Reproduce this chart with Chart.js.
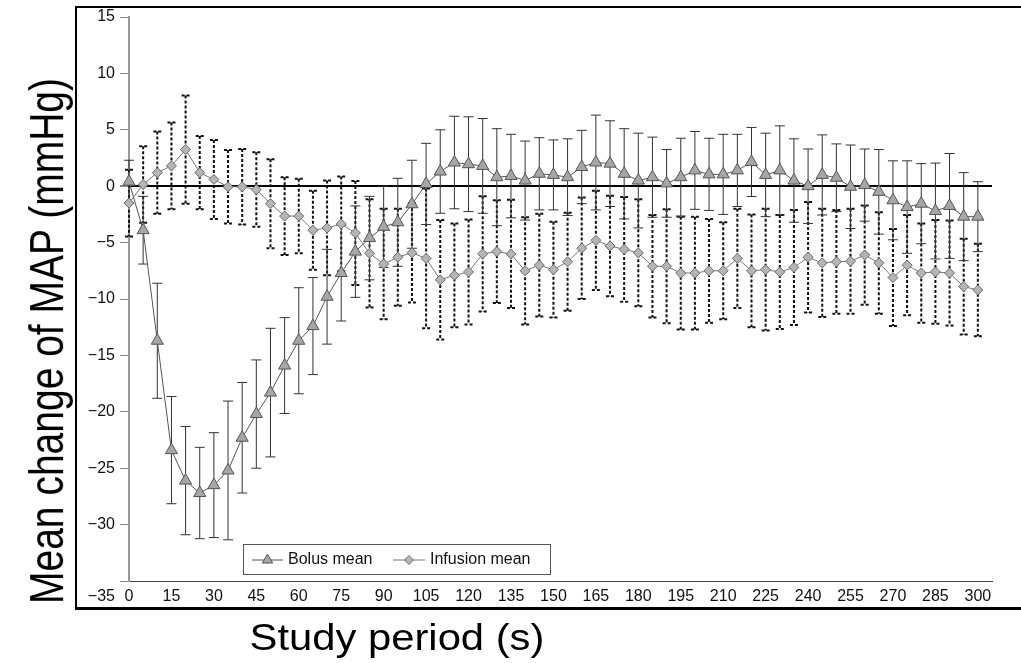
<!DOCTYPE html>
<html>
<head>
<meta charset="utf-8">
<script src="https://cdn.jsdelivr.net/npm/chart.js@4/dist/chart.umd.min.js"></script>
<style>
  html, body { margin: 0; padding: 0; background: #fff; }
  #wrap { position: relative; width: 1021px; height: 663px; overflow: hidden;
          font-family: 'Liberation Sans', Arial, Helvetica, sans-serif; color: #000; }
  #frame { position: absolute; left: 75px; top: 6px; width: 980px; height: 599px;
           border-top: 2px solid #000; border-left: 2px solid #000; border-bottom: 3px solid #000; }
  #chart { position: absolute; left: 0; top: 0; }
  .ytitle { position: absolute; left: 46px; top: 341px; font-size: 39px; line-height: 1;
            white-space: nowrap; transform: translate(-50%, -50%) rotate(-90deg) scaleY(1.25); }
  .xtitle { position: absolute; left: 397px; top: 620px; font-size: 36px; line-height: 1;
            white-space: nowrap; transform: translate(-50%, 0) scaleX(1.16); }
</style>
</head>
<body>
<div id="wrap">
  <div id="frame"></div>
  <canvas id="chart" width="1021" height="663"></canvas>
  <div class="ytitle">Mean change of MAP (mmHg)</div>
  <div class="xtitle">Study period (s)</div>
</div>
<script>
const times = [0, 5, 10, 15, 20, 25, 30, 35, 40, 45, 50, 55, 60, 65, 70, 75, 80, 85, 90, 95,
  100, 105, 110, 115, 120, 125, 130, 135, 140, 145, 150, 155, 160, 165, 170, 175, 180, 185, 190, 195,
  200, 205, 210, 215, 220, 225, 230, 235, 240, 245, 250, 255, 260, 265, 270, 275, 280, 285, 290, 295, 300];

const bolusMean = [0.4, -3.9, -13.7, -23.4, -26.1, -27.2, -26.5, -25.2, -22.3, -20.2,
  -18.3, -15.9, -13.7, -12.4, -9.8, -7.7, -5.8, -4.6, -3.6, -3.2,
  -1.6, 0.2, 1.3, 2.1, 1.95, 1.8, 0.8, 0.9, 0.5, 1.1,
  1.0, 0.8, 1.7, 2.1, 2.0, 1.1, 0.5, 0.8, 0.25, 0.8,
  1.4, 1.05, 1.05, 1.4, 2.15, 1.0, 1.4, 0.5, 0.0, 1.0,
  0.75, -0.05, 0.1, -0.5, -1.25, -1.85, -1.55, -2.2, -1.75, -2.7, -2.7];

const bolusSD = [1.9, 3.0, 5.1, 4.75, 4.8, 4.05, 4.65, 6.15, 4.9, 4.8,
  5.7, 4.25, 4.7, 4.3, 4.2, 4.25, 4.05, 3.7, 3.6, 3.9,
  3.9, 3.6, 3.7, 4.1, 4.2, 4.2, 4.3, 3.7, 3.5, 3.2,
  3.1, 3.4, 3.25, 4.2, 3.8, 4.0, 4.2, 3.55, 3.0, 3.45,
  3.45, 3.2, 3.55, 3.2, 3.06, 3.7, 3.95, 3.7, 3.3, 3.55,
  3.0, 3.7, 3.2, 3.75, 3.5, 4.1, 3.55, 4.25, 4.65, 3.9, 3.1];

const infusionMean = [-1.5, 0.15, 1.2, 1.8, 3.25, 1.2, 0.6, -0.05, -0.05, -0.3,
  -1.55, -2.65, -2.65, -3.9, -3.7, -3.35, -4.15, -5.95, -6.9, -6.3,
  -5.9, -6.4, -8.3, -7.9, -7.6, -6.0, -5.8, -6.0, -7.5, -7.0,
  -7.4, -6.7, -5.5, -4.8, -5.3, -5.6, -5.9, -7.1, -7.1, -7.7,
  -7.7, -7.5, -7.5, -6.4, -7.5, -7.4, -7.6, -7.2, -6.3, -6.8,
  -6.7, -6.65, -6.1, -6.8, -8.1, -7.0, -7.7, -7.6, -7.7, -8.9, -9.2];

const infusionSD = [2.95, 3.4, 3.65, 3.85, 4.8, 3.25, 3.5, 3.25, 3.35, 3.3,
  3.95, 3.45, 3.3, 3.5, 4.2, 4.2, 4.6, 4.8, 4.9, 4.3,
  4.4, 6.2, 5.3, 4.6, 4.65, 5.1, 4.55, 4.8, 4.75, 4.55,
  4.25, 4.35, 4.5, 4.4, 4.45, 4.65, 4.75, 4.55, 5.05, 5.0,
  5.0, 4.6, 4.3, 4.4, 5.0, 5.4, 5.05, 5.1, 4.9, 4.8,
  4.6, 4.65, 4.4, 4.5, 4.3, 4.45, 4.4, 4.6, 4.65, 4.25, 4.1];

const xTicks = [0, 15, 30, 45, 60, 75, 90, 105, 120, 135, 150, 165, 180, 195, 210, 225, 240, 255, 270, 285, 300];
const yTicks = [-35, -30, -25, -20, -15, -10, -5, 0, 5, 10, 15];

const fontFamily = "'Liberation Sans', Arial, Helvetica, sans-serif";
const minus = v => String(v).replace('-', '\u2212');

// mean +/- SD whiskers, drawn under the markers
const errorBars = {
  id: 'errorBars',
  beforeDatasetsDraw(chart) {
    const { ctx, scales: { x, y } } = chart;
    const sets = [
      { mean: infusionMean, sd: infusionSD, dash: [3, 2], width: 2, color: '#111', cap: 4 },
      { mean: bolusMean, sd: bolusSD, dash: [], width: 1, color: '#333', cap: 5 }
    ];
    ctx.save();
    sets.forEach(s => {
      ctx.strokeStyle = s.color;
      ctx.lineWidth = s.width;
      ctx.setLineDash(s.dash);
      times.forEach((t, i) => {
        const px = x.getPixelForValue(t);
        const top = y.getPixelForValue(s.mean[i] + s.sd[i]);
        const bot = y.getPixelForValue(s.mean[i] - s.sd[i]);
        ctx.beginPath();
        ctx.moveTo(px, top); ctx.lineTo(px, bot);
        ctx.moveTo(px - s.cap, top); ctx.lineTo(px + s.cap, top);
        ctx.moveTo(px - s.cap, bot); ctx.lineTo(px + s.cap, bot);
        ctx.stroke();
      });
    });
    ctx.restore();
  }
};

// boxed legend in the lower part of the plot, plus the lone -35 label
const boxLegend = {
  id: 'boxLegend',
  afterDraw(chart) {
    const { ctx, chartArea: ca, scales: { y } } = chart;
    const left = ca.left + 114, top = ca.bottom - 37, w = 307, h = 30;
    const cy = top + h / 2 + 1;
    ctx.save();
    ctx.strokeStyle = '#555';
    ctx.lineWidth = 1;
    ctx.strokeRect(left + 0.5, top + 0.5, w, h);

    const items = [
      { x0: left + 9, x1: left + 40, tx: left + 45, ds: chart.data.datasets[0] },
      { x0: left + 150, x1: left + 182, tx: left + 187, ds: chart.data.datasets[1] }
    ];
    items.forEach(it => {
      const mx = (it.x0 + it.x1) / 2;
      ctx.strokeStyle = it.ds.borderColor;
      ctx.beginPath();
      ctx.moveTo(it.x0, cy); ctx.lineTo(it.x1, cy);
      ctx.stroke();
      ctx.fillStyle = it.ds.pointBackgroundColor;
      ctx.strokeStyle = it.ds.pointBorderColor;
      ctx.beginPath();
      if (it.ds.pointStyle === 'triangle') {
        const r = 6;
        ctx.moveTo(mx, cy - r);
        ctx.lineTo(mx + 0.866 * r, cy + 0.5 * r);
        ctx.lineTo(mx - 0.866 * r, cy + 0.5 * r);
      } else {
        const r = 4.5;
        ctx.moveTo(mx - r, cy); ctx.lineTo(mx, cy - r);
        ctx.lineTo(mx + r, cy); ctx.lineTo(mx, cy + r);
      }
      ctx.closePath();
      ctx.fill();
      ctx.stroke();
      ctx.fillStyle = '#111';
      ctx.font = '16px ' + fontFamily;
      ctx.textAlign = 'left';
      ctx.textBaseline = 'middle';
      ctx.fillText(it.ds.label, it.tx, cy);
    });

    ctx.textAlign = 'right';
    ctx.fillText(minus(yTicks[0]), y.right - 14, ca.bottom + 16);
    ctx.restore();
  }
};

new Chart(document.getElementById('chart'), {
  type: 'line',
  data: {
    datasets: [{
      label: 'Bolus mean',
      data: times.map((t, i) => ({ x: t, y: bolusMean[i] })),
      borderColor: '#555',
      borderWidth: 1,
      pointStyle: 'triangle',
      pointRadius: 7,
      pointBackgroundColor: '#a6a6a6',
      pointBorderColor: '#555',
      pointBorderWidth: 1,
      tension: 0,
      clip: false,
      order: 0
    }, {
      label: 'Infusion mean',
      data: times.map((t, i) => ({ x: t, y: infusionMean[i] })),
      borderColor: '#777',
      borderWidth: 1,
      pointStyle: 'rectRot',
      pointRadius: 5,
      pointBackgroundColor: '#b5b5b5',
      pointBorderColor: '#6a6a6a',
      pointBorderWidth: 1,
      tension: 0,
      clip: false,
      order: 1
    }]
  },
  options: {
    responsive: false,
    animation: false,
    layout: { padding: { left: 75, right: 29, top: 17, bottom: 52 } },
    plugins: { legend: { display: false }, tooltip: { enabled: false } },
    scales: {
      x: {
        type: 'linear',
        min: 0,
        max: 305,
        afterFit: s => { s.height = 30; },
        afterBuildTicks: s => { s.ticks = xTicks.map(v => ({ value: v })); },
        grid: { display: false, drawTicks: false },
        border: { color: '#444', width: 1 },
        ticks: { padding: 6, color: '#111', maxRotation: 0, autoSkip: false,
                 font: { size: 16, family: fontFamily } }
      },
      y: {
        min: -35,
        max: 15,
        afterFit: s => { s.width = 54; },
        afterBuildTicks: s => { s.ticks = yTicks.map(v => ({ value: v })); },
        grid: {
          color: c => (c.tick && c.tick.value === 0 ? '#000' : 'rgba(0,0,0,0)'),
          lineWidth: c => (c.tick && c.tick.value === 0 ? 2 : 1),
          tickColor: '#888',
          tickLength: 9
        },
        border: { color: '#999', width: 2 },
        ticks: { padding: 5, color: '#111', font: { size: 16, family: fontFamily },
                 callback: v => (v === yTicks[0] ? '' : minus(v)) }
      }
    }
  },
  plugins: [errorBars, boxLegend]
});
</script>
</body>
</html>
